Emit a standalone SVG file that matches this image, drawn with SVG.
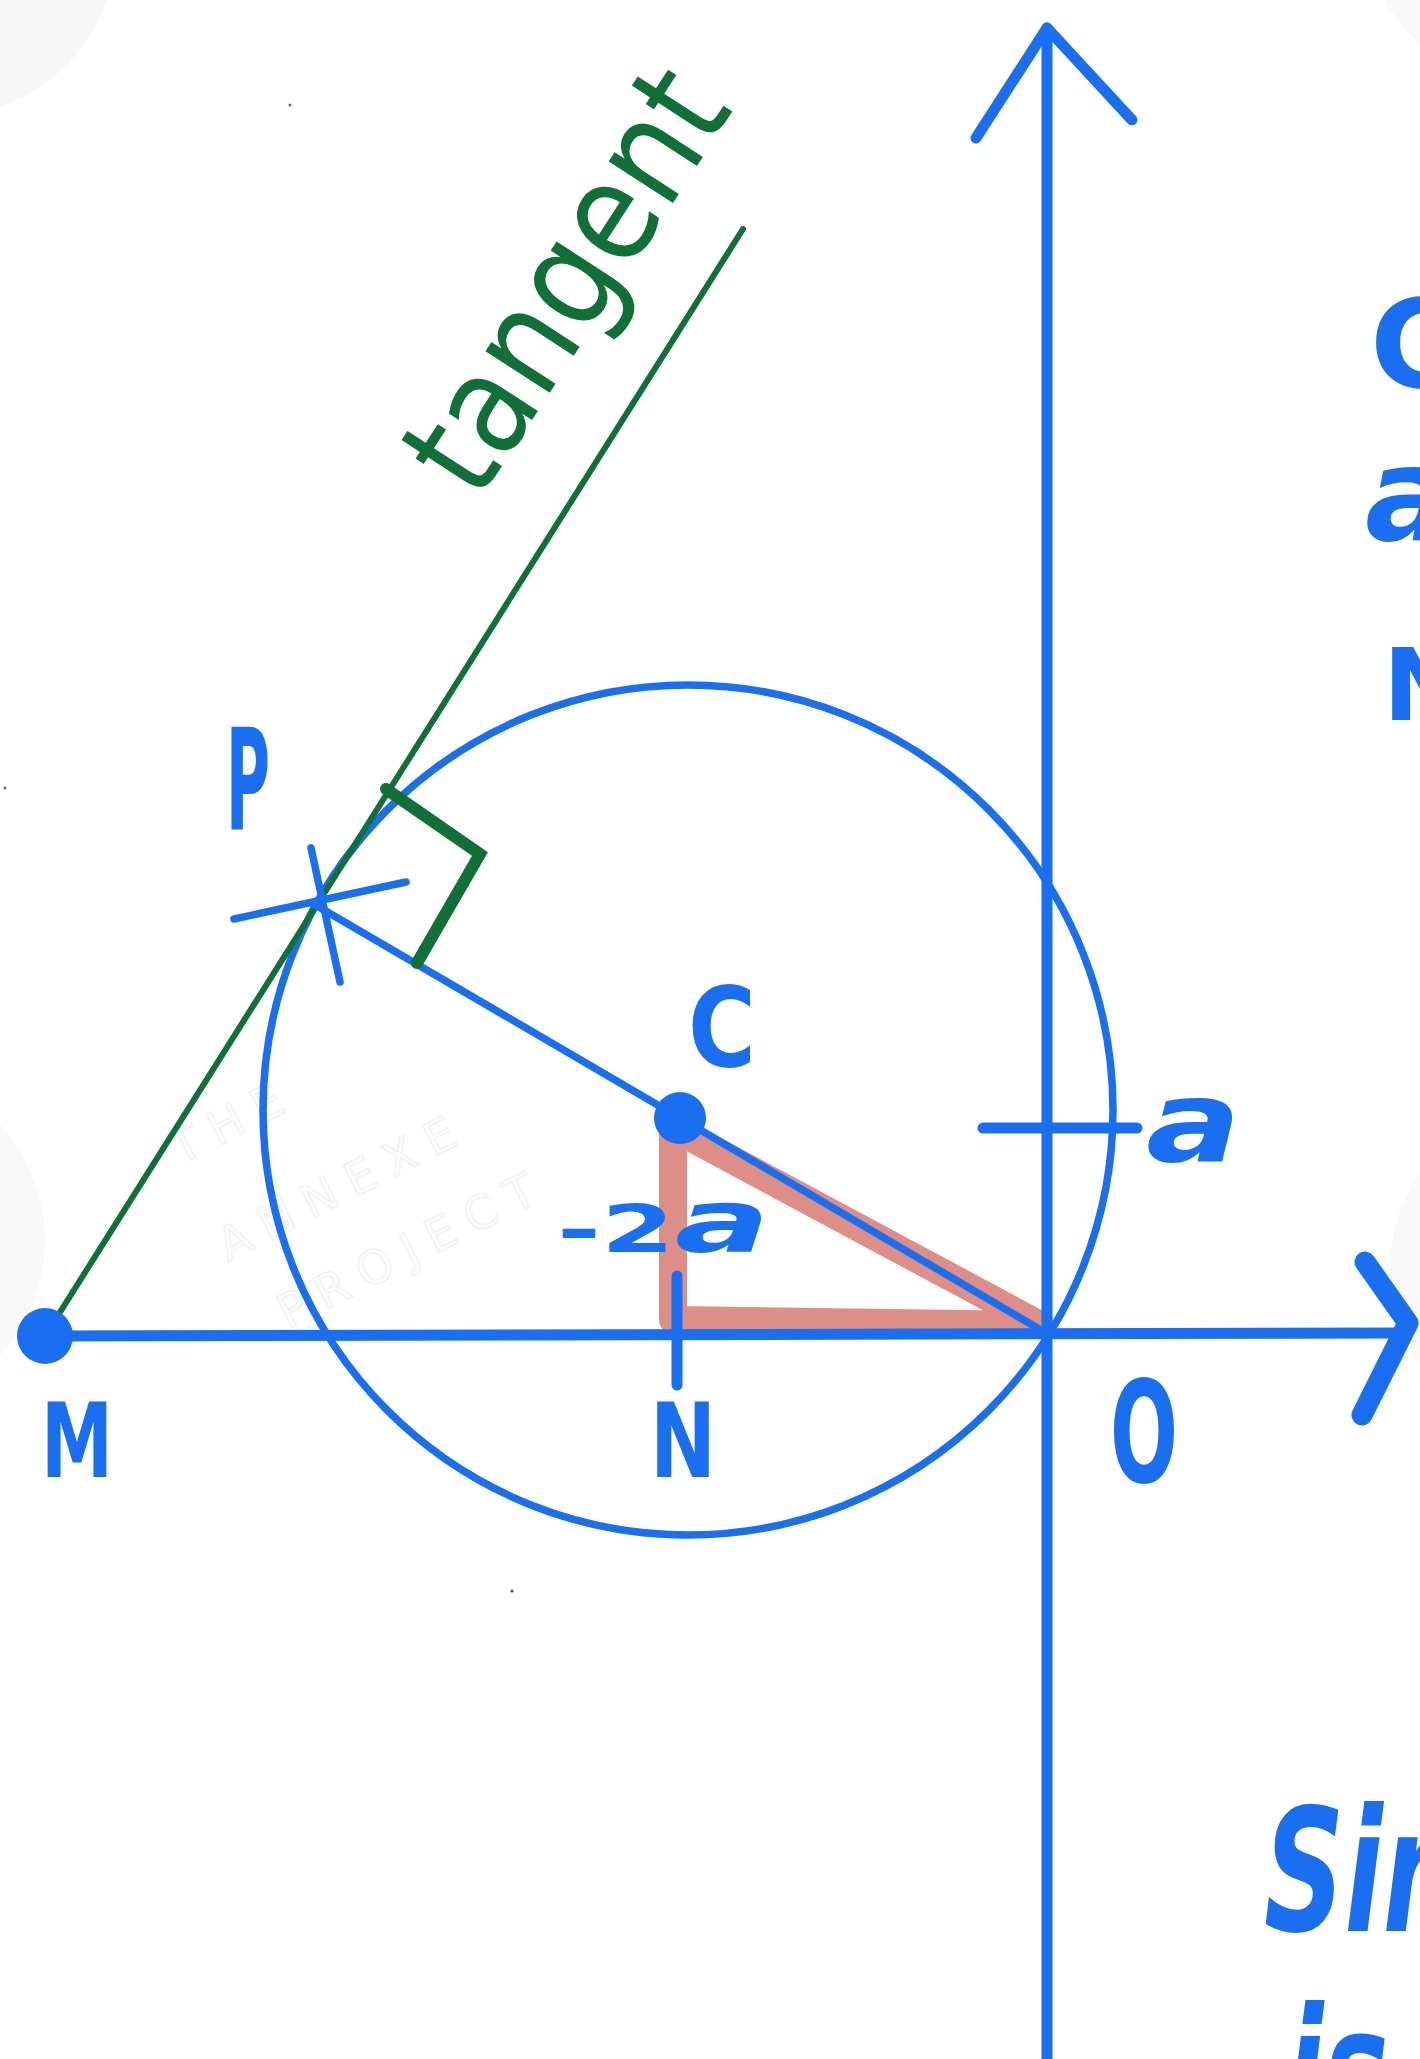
<svg xmlns="http://www.w3.org/2000/svg" width="1420" height="2059" viewBox="0 0 1420 2059">
<style>
.ax{stroke:#1a6ef0;stroke-width:11;fill:none;stroke-linecap:round;stroke-linejoin:round}
.bl{stroke:#1a6ef0;stroke-width:7.5;fill:none;stroke-linecap:round}
.gr{stroke:#107038;fill:none;stroke-linecap:round}
.lbl{font-family:"DejaVu Sans","Liberation Sans",sans-serif;font-weight:bold;fill:#1a6ef0}
.wm{font-family:"DejaVu Sans","Liberation Sans",sans-serif;fill:none;stroke:#f3f3f3;stroke-width:2;font-size:46px;letter-spacing:14px}
.dot{fill:#1a6ef0}
</style>
<rect width="1420" height="2059" fill="#ffffff"/>
<g id="watermark">
<circle cx="-60" cy="-60" r="178" fill="#f7f7f7"/>
<circle cx="1540" cy="-90" r="180" fill="#f8f8f8"/>
<circle cx="-125" cy="1240" r="170" fill="#f8f8f8"/>
<circle cx="1560" cy="1268" r="170" fill="#f8f8f8"/>
<text class="wm" transform="translate(240 1135) rotate(-27)" text-anchor="middle">THE</text>
<text class="wm" transform="translate(350 1200) rotate(-27)" text-anchor="middle">ANNEXE</text>
<text class="wm" transform="translate(420 1262) rotate(-27)" text-anchor="middle">PROJECT</text>
<circle cx="290" cy="105" r="1.5" fill="#666"/>
<circle cx="5" cy="788" r="1.5" fill="#666"/>
<circle cx="512" cy="1591" r="1.5" fill="#444"/>
</g>
<g id="connectors">
<polygon points="673,1128 673,1320 1040,1325" fill="none" stroke="#d9837a" stroke-opacity="0.9" stroke-width="28" stroke-linejoin="round"/>
<line class="ax" x1="1047" y1="2059" x2="1047" y2="28"/>
<polyline class="ax" points="976,138 1047,28 1132,120"/>
<line class="ax" x1="45" y1="1336" x2="1405" y2="1333"/>
<polyline points="1365,1262 1408,1323 1362,1415" fill="none" stroke="#1a6ef0" stroke-width="21" stroke-linecap="round" stroke-linejoin="round"/>
<circle class="bl" cx="688" cy="1110" r="425"/>
<line class="gr" stroke-width="6" x1="45" y1="1336" x2="743" y2="229"/>
<line class="bl" x1="680" y1="1118" x2="312" y2="903"/>
<line class="bl" x1="680" y1="1118" x2="1046" y2="1333"/>
<line class="bl" x1="234" y1="919" x2="406" y2="882"/>
<line class="bl" x1="311" y1="848" x2="340" y2="982"/>
<line class="ax" x1="983" y1="1128" x2="1137" y2="1128"/>
<line class="ax" x1="677" y1="1276" x2="677" y2="1385"/>
<polyline class="gr" stroke-width="12" stroke-linejoin="miter" points="386,789 480,854 417,963"/>
</g>
<g id="node-M"><circle class="dot" cx="45" cy="1336" r="28"/><text class="lbl" x="41" y="1477" font-size="103" textLength="72" lengthAdjust="spacingAndGlyphs">M</text></g>
<g id="node-C"><circle class="dot" cx="680" cy="1118" r="26"/><text class="lbl" x="688" y="1066" font-size="110" textLength="68" lengthAdjust="spacingAndGlyphs">C</text></g>
<g id="node-P"><text class="lbl" x="226" y="830" font-size="140" textLength="44" lengthAdjust="spacingAndGlyphs">P</text></g>
<g id="node-N"><text class="lbl" x="650" y="1477" font-size="103" textLength="66" lengthAdjust="spacingAndGlyphs">N</text></g>
<g id="node-O"><text class="lbl" x="1110" y="1482" font-size="140" textLength="68" lengthAdjust="spacingAndGlyphs">O</text></g>
<g id="label-a"><text class="lbl" x="1146" y="1161" font-size="112" font-style="italic" textLength="95" lengthAdjust="spacingAndGlyphs">a</text></g>
<g id="label-2a"><text class="lbl" x="557" y="1252" font-size="66" textLength="213" lengthAdjust="spacingAndGlyphs">-2<tspan font-style="italic" font-size="88">a</tspan></text></g>
<g id="label-tangent"><text font-family="DejaVu Sans, Liberation Sans, sans-serif" fill="#107038" font-size="140" text-anchor="middle" textLength="470" lengthAdjust="spacingAndGlyphs" transform="translate(606 306) rotate(-57)">tangent</text></g>
<g id="edge-text">
<text class="lbl" x="1370" y="387" font-size="123">C</text>
<text class="lbl" x="1365" y="540" font-size="130" font-style="italic">a</text>
<text class="lbl" x="1383" y="720" font-size="100">N</text>
<text class="lbl" font-size="172" font-style="italic" transform="translate(1264 1931) scale(0.65 1)">Sin</text>
<text class="lbl" font-size="168" font-style="italic" transform="translate(1286 2128) scale(0.65 1)">is</text>
</g>
</svg>
